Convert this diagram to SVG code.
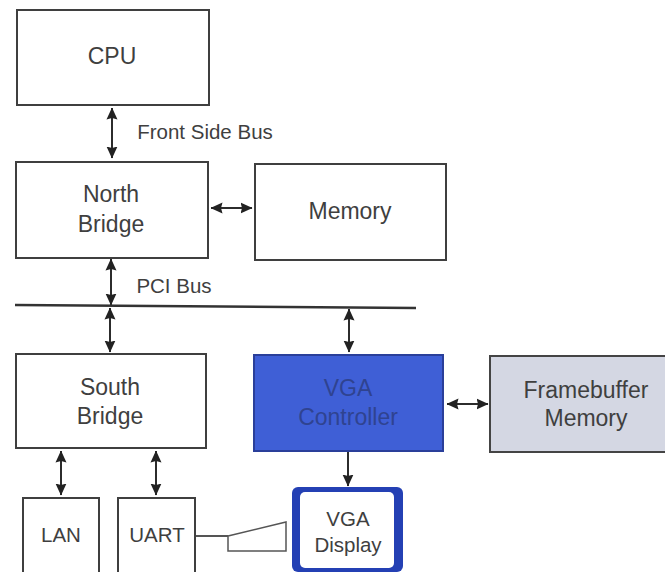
<svg xmlns="http://www.w3.org/2000/svg" width="665" height="572" viewBox="0 0 665 572">
<style>
text{font-family:"Liberation Sans",Arial,sans-serif;fill:#3f3f3f;text-anchor:middle;font-size:23px}
.b{fill:#fff;stroke:#3f3f3f;stroke-width:2}
.c{fill:none;stroke:#2c2c2c;stroke-width:2}
.s{font-size:20.5px}
.v{fill:#2f4390}
</style>
<defs>
<marker id="a" viewBox="0 0 12 12" refX="11.5" refY="6" markerWidth="12" markerHeight="12" markerUnits="userSpaceOnUse" orient="auto-start-reverse"><path d="M0 .5L12 6L0 11.500L1.500 6Z" fill="#222"/></marker>
</defs>
<rect width="665" height="572" fill="#fff"/>
<g id="connectors">
<path class="c" d="M112 108V158" marker-start="url(#a)" marker-end="url(#a)"/>
<path class="c" d="M211 208H252" marker-start="url(#a)" marker-end="url(#a)"/>
<path class="c" d="M111 259V305" marker-start="url(#a)" marker-end="url(#a)"/>
<path class="c" d="M110 308V352" marker-start="url(#a)" marker-end="url(#a)"/>
<path class="c" d="M349 309V352" marker-start="url(#a)" marker-end="url(#a)"/>
<path class="c" d="M447 404H488" marker-start="url(#a)" marker-end="url(#a)"/>
<path class="c" d="M61 451V495" marker-start="url(#a)" marker-end="url(#a)"/>
<path class="c" d="M156 451V495" marker-start="url(#a)" marker-end="url(#a)"/>
<path class="c" d="M348 451V486" marker-end="url(#a)"/>
<path d="M15 305L416 308" fill="none" stroke="#333" stroke-width="2.5"/>
<path d="M196 536H228" fill="none" stroke="#555" stroke-width="2"/>
<path d="M228 536L286 522V551H228Z" fill="#fff" stroke="#555" stroke-width="1.500"/>
</g>
<g id="cpu"><rect class="b" x="17" y="10" width="192" height="95"/><text x="112" y="64">CPU</text></g>
<text class="s" x="205" y="139">Front Side Bus</text>
<g id="north-bridge"><rect class="b" x="16" y="162" width="192" height="96"/><text x="111" y="202">North</text><text x="111" y="232">Bridge</text></g>
<g id="memory"><rect class="b" x="255" y="164" width="191" height="96"/><text x="350" y="219">Memory</text></g>
<text class="s" x="174" y="293">PCI Bus</text>
<g id="south-bridge"><rect class="b" x="16" y="354" width="190" height="94"/><text x="110" y="395">South</text><text x="110" y="424">Bridge</text></g>
<g id="vga-controller"><rect x="254" y="355" width="189" height="96" fill="#3f5fd6" stroke="#2a3f9a" stroke-width="2"/><text class="v" x="348" y="396">VGA</text><text class="v" x="348" y="425">Controller</text></g>
<g id="framebuffer-memory"><rect x="490" y="356" width="185" height="96" fill="#d4d7e3" stroke="#444" stroke-width="2"/><text x="586" y="398">Framebuffer</text><text x="586" y="426">Memory</text></g>
<g id="lan"><rect class="b" x="23" y="498" width="76" height="84"/><text class="s" x="61" y="542">LAN</text></g>
<g id="uart"><rect class="b" x="118" y="498" width="77" height="84"/><text class="s" x="157" y="542">UART</text></g>
<g id="vga-display"><rect x="292" y="487" width="111" height="85" rx="6" fill="#2440b4"/><rect x="300" y="492" width="94" height="76" rx="5" fill="#fff"/><text class="s" x="348" y="526">VGA</text><text class="s" x="348" y="552">Display</text></g>
</svg>
